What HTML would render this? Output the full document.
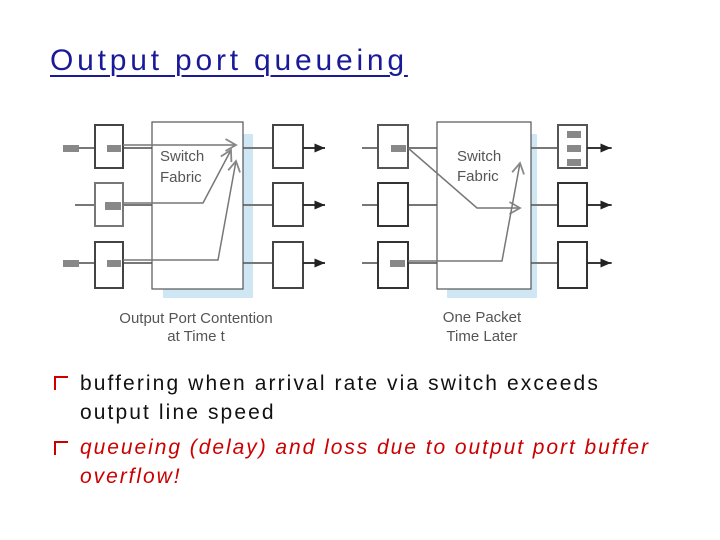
<!DOCTYPE html>
<html><head><style>
body{margin:0;width:720px;height:540px;background:#fff;overflow:hidden;position:relative;font-family:"Liberation Sans",sans-serif}
.t{position:absolute;left:50px;top:44px;font-size:30px;letter-spacing:3.8px;color:#1a1a99;text-decoration:underline;text-decoration-thickness:2px;text-underline-offset:5px}
.b{position:absolute;left:80px;font-size:21px;line-height:29px;color:#111;letter-spacing:2.1px;white-space:nowrap}
</style></head><body>
<div class="t">Output port queueing</div>
<svg width="720" height="540" style="position:absolute;left:0;top:0">
<defs><marker id="a" markerWidth="8" markerHeight="8" refX="7" refY="4" orient="auto"><path d="M0,1L7,4L0,7z" fill="#222"/></marker>
<marker id="g" markerWidth="10" markerHeight="10" refX="8" refY="5" orient="auto"><path d="M1,1L8,5L1,9" fill="none" stroke="#888" stroke-width="1.2"/></marker></defs>
<g stroke="#777" stroke-width="2" fill="none">
<rect x="163" y="134" width="90" height="164" fill="#cfe6f5" stroke="none"/>
<line x1="63" y1="148" x2="325" y2="148"/><line x1="75" y1="205" x2="325" y2="205"/><line x1="63" y1="263" x2="325" y2="263"/>
<rect x="95" y="125" width="28" height="43" fill="#fff" stroke="#444"/>
<rect x="95" y="183" width="28" height="43" fill="#fff" stroke="#777"/>
<rect x="95" y="242" width="28" height="46" fill="#fff" stroke="#444"/>
<rect x="152" y="122" width="91" height="167" fill="#fff" stroke="#555" stroke-width="1.2"/>
<rect x="273" y="125" width="30" height="43" fill="#fff" stroke="#444"/>
<rect x="273" y="183" width="30" height="43" fill="#fff" stroke="#444"/>
<rect x="273" y="242" width="30" height="46" fill="#fff" stroke="#444"/>
<g stroke-width="1.5"><path d="M123,145H236" marker-end="url(#g)"/><path d="M123,203H203L231,150" marker-end="url(#g)"/><path d="M123,260H218L236,161" marker-end="url(#g)"/></g>
<rect x="447" y="134" width="90" height="164" fill="#cfe6f5" stroke="none"/>
<line x1="362" y1="148" x2="612" y2="148"/><line x1="362" y1="205" x2="612" y2="205"/><line x1="362" y1="263" x2="612" y2="263"/>
<rect x="378" y="125" width="30" height="43" fill="#fff" stroke="#555"/>
<rect x="378" y="183" width="30" height="43" fill="#fff" stroke="#333"/>
<rect x="378" y="242" width="30" height="46" fill="#fff" stroke="#333"/>
<rect x="437" y="122" width="94" height="167" fill="#fff" stroke="#555" stroke-width="1.2"/>
<rect x="558" y="125" width="29" height="43" fill="#fff" stroke="#555"/>
<rect x="558" y="183" width="29" height="43" fill="#fff" stroke="#333"/>
<rect x="558" y="242" width="29" height="46" fill="#fff" stroke="#333"/>
<g stroke-width="1.5"><path d="M408,148L477,208H520" marker-end="url(#g)"/><path d="M408,261H502L520,163" marker-end="url(#g)"/></g>
</g>
<g fill="#888"><rect x="63" y="145" width="16" height="7"/><rect x="107" y="145" width="14" height="7"/><rect x="105" y="202" width="16" height="8"/><rect x="63" y="260" width="16" height="7"/><rect x="107" y="260" width="14" height="7"/>
<rect x="391" y="145" width="15" height="7"/><rect x="390" y="260" width="15" height="7"/>
<rect x="567" y="131" width="14" height="7"/><rect x="567" y="145" width="14" height="7"/><rect x="567" y="159" width="14" height="7"/></g>
<g stroke="#222" stroke-width="1.5"><path d="M303,148H325" marker-end="url(#a)"/><path d="M303,205H325" marker-end="url(#a)"/><path d="M303,263H325" marker-end="url(#a)"/>
<path d="M587,148H611" marker-end="url(#a)"/><path d="M587,205H611" marker-end="url(#a)"/><path d="M587,263H611" marker-end="url(#a)"/></g>
<g font-family="Liberation Sans" font-size="15" fill="#555"><text x="160" y="161">Switch</text><text x="160" y="182">Fabric</text>
<text x="457" y="161">Switch</text><text x="457" y="181">Fabric</text>
<text x="196" y="323" text-anchor="middle">Output Port Contention</text><text x="196" y="341" text-anchor="middle">at Time t</text>
<text x="482" y="322" text-anchor="middle">One Packet</text><text x="482" y="341" text-anchor="middle">Time Later</text></g>
<g stroke="#c00" stroke-width="2" fill="none"><path d="M55,390V377H68"/><path d="M55,455V442H68"/></g>
</svg>
<div class="b" style="top:369px">buffering when arrival rate via switch exceeds<br>output line speed</div>
<div class="b" style="top:433px;color:#c00;font-style:italic;letter-spacing:1.95px">queueing (delay) and loss due to output port buffer<br>overflow!</div>
</body></html>
